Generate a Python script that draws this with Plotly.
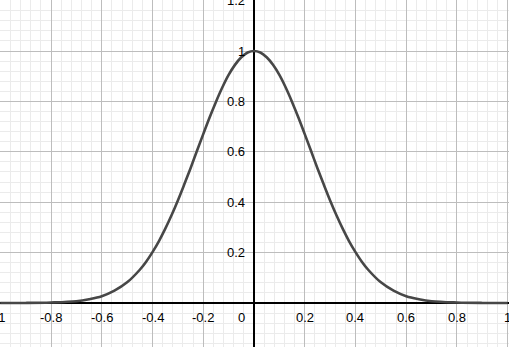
import plotly.graph_objects as go

# Curve values (symmetric bell shape)
x_left = [-1.0, -0.9, -0.8, -0.7, -0.65, -0.6, -0.55, -0.5, -0.45, -0.425,
          -0.4, -0.375, -0.35, -0.325, -0.3, -0.275, -0.25, -0.225, -0.2,
          -0.175, -0.15, -0.125, -0.1, -0.075, -0.05, -0.025, 0.0]
y_left = [0.0, 0.0003, 0.002, 0.007, 0.015, 0.027, 0.049, 0.082, 0.132, 0.164,
          0.202, 0.245, 0.294, 0.348, 0.407, 0.47, 0.535, 0.603, 0.67,
          0.736, 0.798, 0.855, 0.905, 0.945, 0.975, 0.994, 1.0]
x_vals = x_left + [-v for v in reversed(x_left[:-1])]
y_vals = y_left + list(reversed(y_left[:-1]))

# Axis tick labels
x_ticks = [-1, -0.8, -0.6, -0.4, -0.2, 0.2, 0.4, 0.6, 0.8, 1]
y_ticks = [0.2, 0.4, 0.6, 0.8, 1, 1.2]

font = dict(family="Liberation Sans, Arial, sans-serif", size=13, color="#000000")

fig = go.Figure()
fig.add_trace(go.Scatter(
    x=x_vals, y=y_vals, mode="lines",
    line=dict(color="#474747", width=2.6, shape="spline", smoothing=1.0),
    hoverinfo="skip",
))

annotations = []
for t in x_ticks:
    annotations.append(dict(x=t, y=0, text=f"{t:g}", showarrow=False,
                            xanchor="center", yanchor="top", yshift=-5, font=font))
annotations.append(dict(x=0, y=0, text="0", showarrow=False,
                        xanchor="right", yanchor="top", xshift=-7, yshift=-5, font=font))
for t in y_ticks:
    annotations.append(dict(x=0, y=t, text=f"{t:g}", showarrow=False,
                            xanchor="right", yanchor="middle", xshift=-7, font=font))

axis_common = dict(
    showgrid=True, gridcolor="#bdbdbd", gridwidth=1,
    zeroline=True, zerolinecolor="#000000", zerolinewidth=1.5,
    showticklabels=False, ticks="", fixedrange=True,
    minor=dict(showgrid=True, gridcolor="#ebebeb", gridwidth=1),
)

fig.update_layout(
    width=509, height=347,
    margin=dict(l=0, r=0, t=0, b=0),
    paper_bgcolor="white", plot_bgcolor="white",
    showlegend=False,
    xaxis=dict(range=[-1.001, 1.005], dtick=0.2, tick0=0,
               minor_dtick=0.04, minor_tick0=0, **axis_common),
    yaxis=dict(range=[-0.1746, 1.2024], dtick=0.2, tick0=0,
               minor_dtick=0.04, minor_tick0=0, **axis_common),
    annotations=annotations,
)

fig.write_html("out.html", config={"displayModeBar": False},
               post_script="document.body.style.margin='0';document.body.style.overflow='hidden';")
